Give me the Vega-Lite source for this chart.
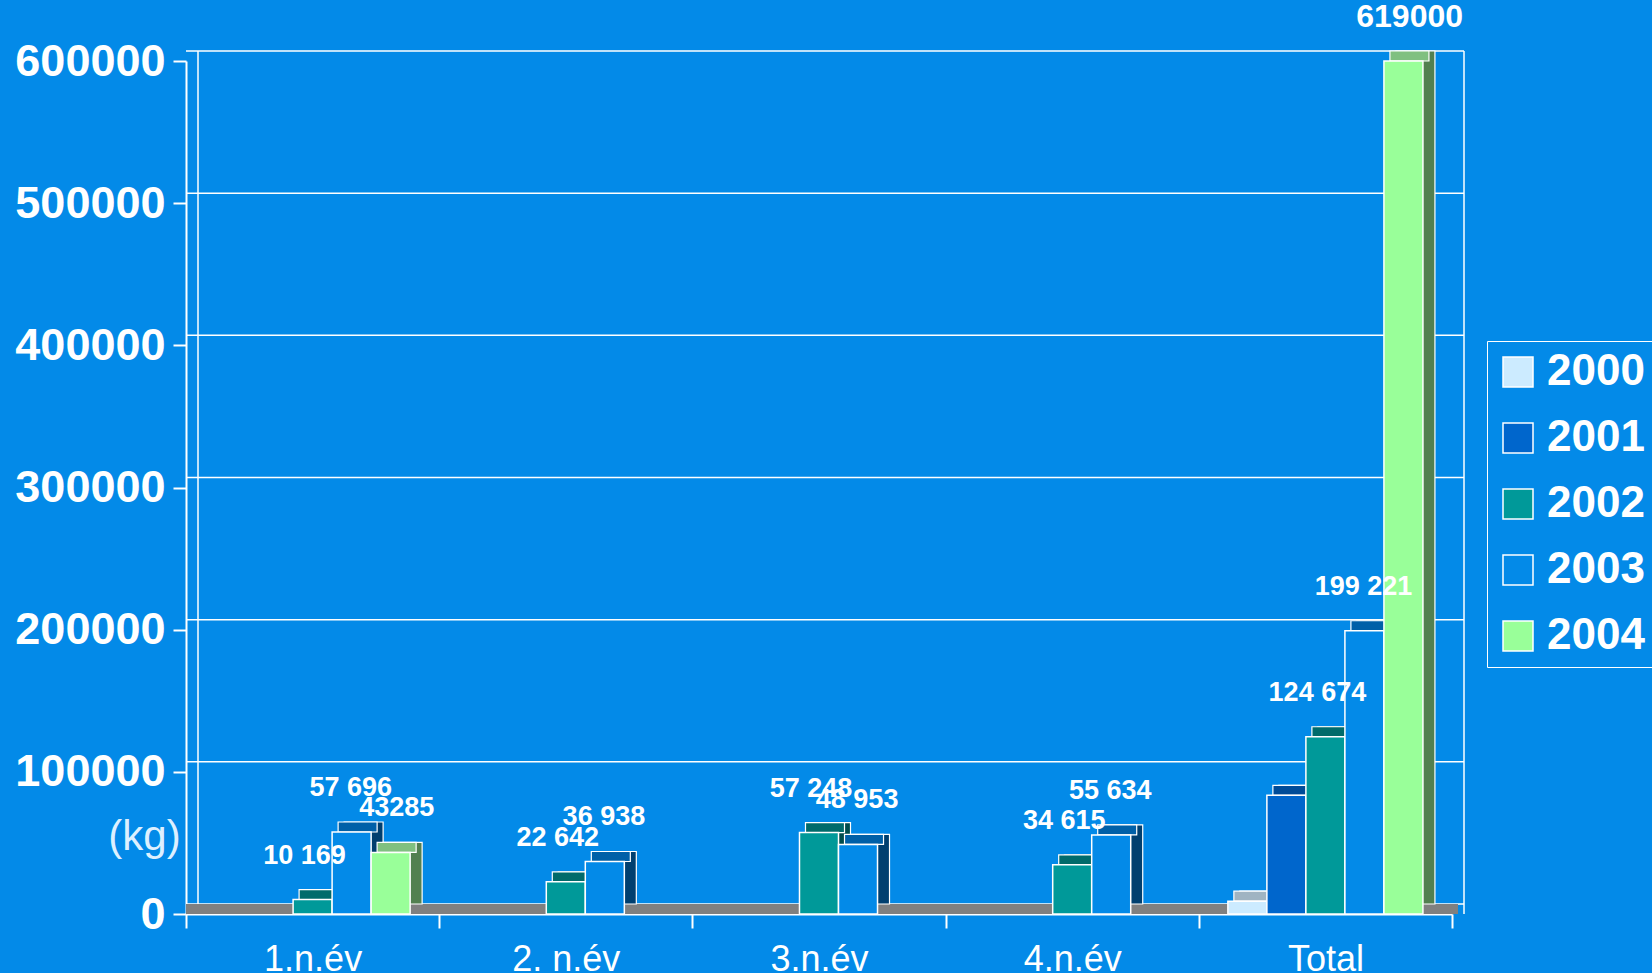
{
  "$schema": "https://vega.github.io/schema/vega-lite/v6.json",
  "width": 1266,
  "height": 853,
  "autosize": {"type": "none"},
  "padding": {"left": 186, "top": 61, "right": 200, "bottom": 59},
  "background": "#038AE8",
  "config": {"view": {"stroke": null}, "font": "Liberation Sans"},
  "datasets": {
    "bars": [
      {"cat": "1.n.év", "year": "2002", "value": 10169, "label": "10 169"},
      {"cat": "1.n.év", "year": "2003", "value": 57696, "label": "57 696"},
      {"cat": "1.n.év", "year": "2004", "value": 43285, "label": "43285"},
      {"cat": "2. n.év", "year": "2002", "value": 22642, "label": "22 642"},
      {"cat": "2. n.év", "year": "2003", "value": 36938, "label": "36 938"},
      {"cat": "3.n.év", "year": "2002", "value": 57248, "label": "57 248"},
      {"cat": "3.n.év", "year": "2003", "value": 48953, "label": "48 953"},
      {"cat": "4.n.év", "year": "2002", "value": 34615, "label": "34 615"},
      {"cat": "4.n.év", "year": "2003", "value": 55634, "label": "55 634"},
      {"cat": "Total", "year": "2000", "value": 9000, "label": ""},
      {"cat": "Total", "year": "2001", "value": 83500, "label": ""},
      {"cat": "Total", "year": "2002", "value": 124674, "label": "124 674"},
      {"cat": "Total", "year": "2003", "value": 199221, "label": "199 221"},
      {"cat": "Total", "year": "2004", "value": 619000, "label": "619000"}
    ],
    "grid": [
      {"value": 0}, {"value": 100000}, {"value": 200000}, {"value": 300000},
      {"value": 400000}, {"value": 500000}, {"value": 600000}
    ]
  },
  "resolve": {"scale": {"fill": "independent", "xOffset": "independent"}},
  "layer": [
    {
      "data": {"name": "grid"},
      "mark": {"type": "rule", "color": "white", "strokeWidth": 1.5, "xOffset": 12, "x2Offset": 12, "yOffset": -10},
      "encoding": {
        "y": {
          "field": "value", "type": "quantitative",
          "scale": {"domain": [0, 600000], "nice": false, "clamp": true},
          "axis": {
            "title": "(kg)", "titleAngle": 0, "titleX": -42, "titleY": 775,
            "titleAlign": "center", "titleBaseline": "middle", "titleFontSize": 42,
            "titleFontWeight": "normal", "titleColor": "#DDF0FF",
            "values": [0, 100000, 200000, 300000, 400000, 500000, 600000],
            "format": "d",
            "labelFontSize": 45, "labelFontWeight": "bold", "labelColor": "white",
            "labelPadding": 8, "labelFlush": false, "labelOverlap": false,
            "tickColor": "white", "tickWidth": 2, "tickSize": 13,
            "domainColor": "white", "domainWidth": 2, "grid": false
          }
        }
      }
    },
    {
      "data": {"name": "bars"},
      "transform": [{"filter": "datum.year == '2002' && datum.cat == '1.n.év'"}],
      "mark": {"type": "rule", "color": "white", "strokeWidth": 1.5, "xOffset": 12, "yOffset": -10, "y2Offset": -10},
      "encoding": {
        "x": {"field": "cat", "bandPosition": 0, "type": "nominal", "scale": {"paddingInner": 0, "paddingOuter": 0}}
      }
    },
    {
      "data": {"name": "bars"},
      "transform": [{"filter": "datum.year == '2004' && datum.cat == 'Total'"}],
      "mark": {"type": "rule", "color": "white", "strokeWidth": 1.5, "xOffset": 12, "yOffset": -10, "y2Offset": -10},
      "encoding": {
        "x": {"field": "cat", "bandPosition": 1, "type": "nominal", "scale": {"paddingInner": 0, "paddingOuter": 0}}
      }
    },
    {
      "data": {"name": "grid"},
      "transform": [{"filter": "datum.value == 0"}],
      "mark": {"type": "rule", "color": "#808080", "strokeWidth": 10, "yOffset": -5, "xOffset": 6, "x2Offset": 6},
      "encoding": {
        "y": {"field": "value", "type": "quantitative", "scale": {"domain": [0, 600000], "nice": false, "clamp": true}}
      }
    },
    {
      "data": {"name": "bars"},
      "mark": {"type": "bar", "yOffset": -10, "y2Offset": -10, "stroke": "white", "strokeWidth": 1.2},
      "encoding": {
        "x": {"field": "cat", "type": "nominal", "scale": {"paddingInner": 0, "paddingOuter": 0}},
        "xOffset": {"field": "year", "type": "nominal", "scale": {"domain": ["2000", "2001", "2002", "2003", "2004"], "range": [12, 265.2], "paddingInner": 0, "paddingOuter": 0.745}},
        "y": {"field": "value", "type": "quantitative", "scale": {"domain": [0, 600000], "nice": false, "clamp": true}},
        "fill": {"field": "year", "type": "nominal", "scale": {"domain": ["2000", "2001", "2002", "2003", "2004"], "range": ["#8FA3B2", "#00468C", "#004C4C", "#003F6F", "#528050"]}, "legend": null}
      }
    },
    {
      "data": {"name": "bars"},
      "mark": {"type": "bar", "yOffset": -10, "stroke": "white", "strokeWidth": 1.2},
      "encoding": {
        "x": {"field": "cat", "type": "nominal", "scale": {"paddingInner": 0, "paddingOuter": 0}},
        "xOffset": {"field": "year", "type": "nominal", "scale": {"domain": ["2000", "2001", "2002", "2003", "2004"], "range": [6, 259.2], "paddingInner": 0, "paddingOuter": 0.745}},
        "y": {"field": "value", "type": "quantitative", "scale": {"domain": [0, 600000], "nice": false, "clamp": true}},
        "y2": {"field": "value"},
        "fill": {"field": "year", "type": "nominal", "scale": {"domain": ["2000", "2001", "2002", "2003", "2004"], "range": ["#A0B4C2", "#004C99", "#006B6B", "#0060A8", "#80C080"]}, "legend": null}
      }
    },
    {
      "data": {"name": "bars"},
      "mark": {"type": "bar", "stroke": "white", "strokeWidth": 1.5},
      "encoding": {
        "x": {
          "field": "cat", "type": "nominal", "scale": {"paddingInner": 0, "paddingOuter": 0},
          "axis": {
            "title": null, "labelAngle": 0, "labelAlign": "center", "labelFontSize": 36, "labelColor": "white",
            "labelPadding": 31, "tickColor": "white", "tickWidth": 2, "tickSize": 14,
            "tickBand": "extent", "domainColor": "white", "domainWidth": 2
          }
        },
        "xOffset": {"field": "year", "type": "nominal", "scale": {"domain": ["2000", "2001", "2002", "2003", "2004"], "range": [0, 253.2], "paddingInner": 0, "paddingOuter": 0.745}},
        "y": {"field": "value", "type": "quantitative", "scale": {"domain": [0, 600000], "nice": false, "clamp": true}},
        "color": {
          "field": "year", "type": "nominal",
          "scale": {"domain": ["2000", "2001", "2002", "2003", "2004"], "range": ["#CCEBFF", "#0066CC", "#009999", "#038AE8", "#99FF99"]},
          "legend": {
            "title": null, "orient": "none", "legendX": 1301, "legendY": 280,
            "symbolType": "square", "symbolSize": 900, "symbolStrokeColor": "white", "symbolStrokeWidth": 1.5,
            "symbolOpacity": 1,
            "labelFontSize": 44, "labelFontWeight": "bold", "labelColor": "white", "labelOffset": 7,
            "rowPadding": 22, "padding": 9, "strokeColor": "white"
          }
        }
      }
    },
    {
      "data": {"name": "bars"},
      "transform": [{"filter": "datum.label != ''"}],
      "mark": {"type": "text", "dy": -44, "dx": -8, "fontWeight": "bold", "fill": "white", "baseline": "middle", "align": "center"},
      "encoding": {
        "x": {"field": "cat", "type": "nominal", "scale": {"paddingInner": 0, "paddingOuter": 0}},
        "xOffset": {"field": "year", "type": "nominal", "scale": {"domain": ["2000", "2001", "2002", "2003", "2004"], "range": [0, 253.2], "paddingInner": 0, "paddingOuter": 0.745}},
        "y": {"field": "value", "type": "quantitative", "scale": {"domain": [0, 600000], "nice": false, "clamp": true}},
        "size": {"condition": {"test": "datum.value > 600000", "value": 32}, "value": 27},
        "text": {"field": "label"}
      }
    }
  ]
}
